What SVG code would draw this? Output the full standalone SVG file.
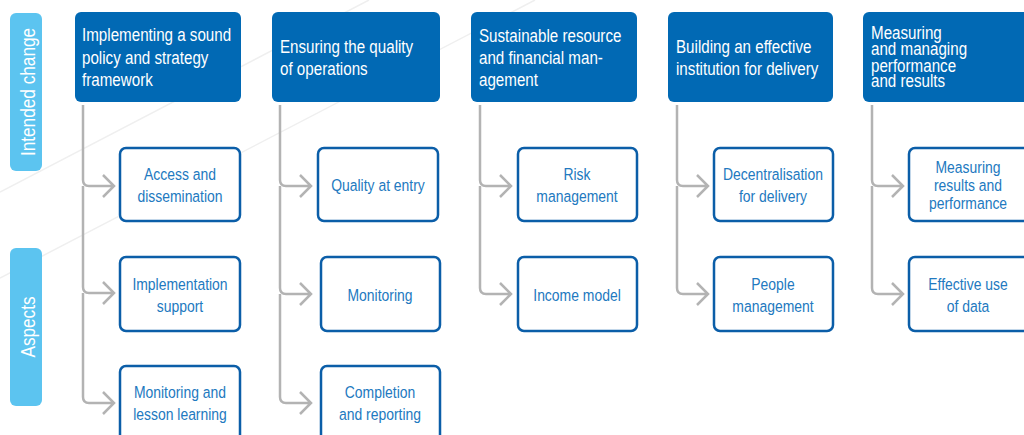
<svg xmlns="http://www.w3.org/2000/svg" width="1024" height="435" viewBox="0 0 1024 435">
<defs>
<style>
.bg{stroke:#efefef;stroke-width:1.5;fill:none}
.pill{fill:#5cc4f0}
.side{font-family:"Liberation Sans",Arial,sans-serif;font-size:21px;fill:#ffffff;text-anchor:middle}
.hdr{fill:#0169b4}
.ht{font-family:"Liberation Sans",Arial,sans-serif;font-size:18.5px;fill:#ffffff}
.box{fill:#ffffff;stroke:#0b5ea8;stroke-width:2.5}
.bt{font-family:"Liberation Sans",Arial,sans-serif;font-size:17px;fill:#2279c0;text-anchor:middle}
.con{fill:none;stroke:#b3b3b3;stroke-width:2.5;stroke-linecap:butt;stroke-linejoin:miter}
</style>
</defs>
<rect width="1024" height="435" fill="#ffffff"/>
<g id="background">
<line class="bg" x1="0" y1="192" x2="369" y2="0"/>
<line class="bg" x1="0" y1="278" x2="535" y2="0"/>
</g>
<g id="label-intended-change">
<rect class="pill" x="10" y="13" width="32" height="158" rx="6"/>
<text class="side" transform="translate(35,92) rotate(-90) scale(0.82,1)">Intended change</text>
</g>
<g id="label-aspects">
<rect class="pill" x="10" y="248" width="32" height="158" rx="6"/>
<text class="side" transform="translate(35,327) rotate(-90) scale(0.82,1)">Aspects</text>
</g>
<g id="connectors">
<path class="con" d="M83,105 V180 Q83,186 89,186 H114 M103,175 L114,186 L103,197"/>
<path class="con" d="M83,186 V287 Q83,293 89,293 H114 M103,282 L114,293 L103,304"/>
<path class="con" d="M83,293 V397 Q83,403 89,403 H114 M103,392 L114,403 L103,414"/>
<path class="con" d="M280,105 V180 Q280,186 286,186 H311 M300,175 L311,186 L300,197"/>
<path class="con" d="M280,186 V288 Q280,294 286,294 H311 M300,283 L311,294 L300,305"/>
<path class="con" d="M280,294 V397 Q280,403 286,403 H311 M300,392 L311,403 L300,414"/>
<path class="con" d="M480,105 V180 Q480,186 486,186 H511 M500,175 L511,186 L500,197"/>
<path class="con" d="M480,186 V288 Q480,294 486,294 H511 M500,283 L511,294 L500,305"/>
<path class="con" d="M677,105 V180 Q677,186 683,186 H708 M697,175 L708,186 L697,197"/>
<path class="con" d="M677,186 V288 Q677,294 683,294 H708 M697,283 L708,294 L697,305"/>
<path class="con" d="M872,105 V180 Q872,186 878,186 H903 M892,175 L903,186 L892,197"/>
<path class="con" d="M872,186 V288 Q872,294 878,294 H903 M892,283 L903,294 L892,305"/>
</g>
<g id="header-1">
<rect class="hdr" x="75" y="12" width="166" height="90" rx="6"/>
<text class="ht" transform="translate(82,41) scale(0.82,1)">Implementing a sound</text>
<text class="ht" transform="translate(82,64) scale(0.82,1)">policy and strategy</text>
<text class="ht" transform="translate(82,86) scale(0.82,1)">framework</text>
</g>
<g id="header-2">
<rect class="hdr" x="272" y="12" width="168" height="90" rx="6"/>
<text class="ht" transform="translate(280,53) scale(0.82,1)">Ensuring the quality</text>
<text class="ht" transform="translate(280,75) scale(0.82,1)">of operations</text>
</g>
<g id="header-3">
<rect class="hdr" x="471" y="12" width="166" height="90" rx="6"/>
<text class="ht" transform="translate(479,42) scale(0.82,1)">Sustainable resource</text>
<text class="ht" transform="translate(479,64) scale(0.82,1)">and financial man-</text>
<text class="ht" transform="translate(479,86) scale(0.82,1)">agement</text>
</g>
<g id="header-4">
<rect class="hdr" x="668" y="12" width="165" height="90" rx="6"/>
<text class="ht" transform="translate(676,53) scale(0.82,1)">Building an effective</text>
<text class="ht" transform="translate(676,75) scale(0.82,1)">institution for delivery</text>
</g>
<g id="header-5">
<rect class="hdr" x="863" y="12" width="170" height="90" rx="6"/>
<text class="ht" transform="translate(871,39) scale(0.82,1)">Measuring</text>
<text class="ht" transform="translate(871,55) scale(0.82,1)">and managing</text>
<text class="ht" transform="translate(871,72) scale(0.82,1)">performance</text>
<text class="ht" transform="translate(871,87) scale(0.82,1)">and results</text>
</g>
<g id="access-dissemination">
<rect class="box" x="120" y="148" width="120" height="73" rx="6"/>
<text class="bt" transform="translate(180,180) scale(0.82,1)">Access and</text>
<text class="bt" transform="translate(180,202) scale(0.82,1)">dissemination</text>
</g>
<g id="implementation-support">
<rect class="box" x="120" y="257" width="120" height="74" rx="6"/>
<text class="bt" transform="translate(180,290) scale(0.82,1)">Implementation</text>
<text class="bt" transform="translate(180,312) scale(0.82,1)">support</text>
</g>
<g id="monitoring-lesson-learning">
<rect class="box" x="120" y="366" width="120" height="80" rx="6"/>
<text class="bt" transform="translate(180,398) scale(0.82,1)">Monitoring and</text>
<text class="bt" transform="translate(180,420) scale(0.82,1)">lesson learning</text>
</g>
<g id="quality-at-entry">
<rect class="box" x="318" y="148" width="120" height="73" rx="6"/>
<text class="bt" transform="translate(378,191) scale(0.82,1)">Quality at entry</text>
</g>
<g id="monitoring">
<rect class="box" x="321" y="257" width="119" height="74" rx="6"/>
<text class="bt" transform="translate(380,301) scale(0.82,1)">Monitoring</text>
</g>
<g id="completion-reporting">
<rect class="box" x="321" y="366" width="119" height="80" rx="6"/>
<text class="bt" transform="translate(380,398) scale(0.82,1)">Completion</text>
<text class="bt" transform="translate(380,420) scale(0.82,1)">and reporting</text>
</g>
<g id="risk-management">
<rect class="box" x="518" y="148" width="119" height="73" rx="6"/>
<text class="bt" transform="translate(577,180) scale(0.82,1)">Risk</text>
<text class="bt" transform="translate(577,202) scale(0.82,1)">management</text>
</g>
<g id="income-model">
<rect class="box" x="518" y="257" width="119" height="74" rx="6"/>
<text class="bt" transform="translate(577,301) scale(0.82,1)">Income model</text>
</g>
<g id="decentralisation">
<rect class="box" x="714" y="148" width="119" height="73" rx="6"/>
<text class="bt" transform="translate(773,180) scale(0.82,1)">Decentralisation</text>
<text class="bt" transform="translate(773,202) scale(0.82,1)">for delivery</text>
</g>
<g id="people-management">
<rect class="box" x="714" y="257" width="119" height="74" rx="6"/>
<text class="bt" transform="translate(773,290) scale(0.82,1)">People</text>
<text class="bt" transform="translate(773,312) scale(0.82,1)">management</text>
</g>
<g id="measuring-results">
<rect class="box" x="909" y="148" width="124" height="73" rx="6"/>
<text class="bt" transform="translate(968,173) scale(0.82,1)">Measuring</text>
<text class="bt" transform="translate(968,191) scale(0.82,1)">results and</text>
<text class="bt" transform="translate(968,209) scale(0.82,1)">performance</text>
</g>
<g id="effective-use-data">
<rect class="box" x="909" y="257" width="124" height="74" rx="6"/>
<text class="bt" transform="translate(968,290) scale(0.82,1)">Effective use</text>
<text class="bt" transform="translate(968,312) scale(0.82,1)">of data</text>
</g>
</svg>
